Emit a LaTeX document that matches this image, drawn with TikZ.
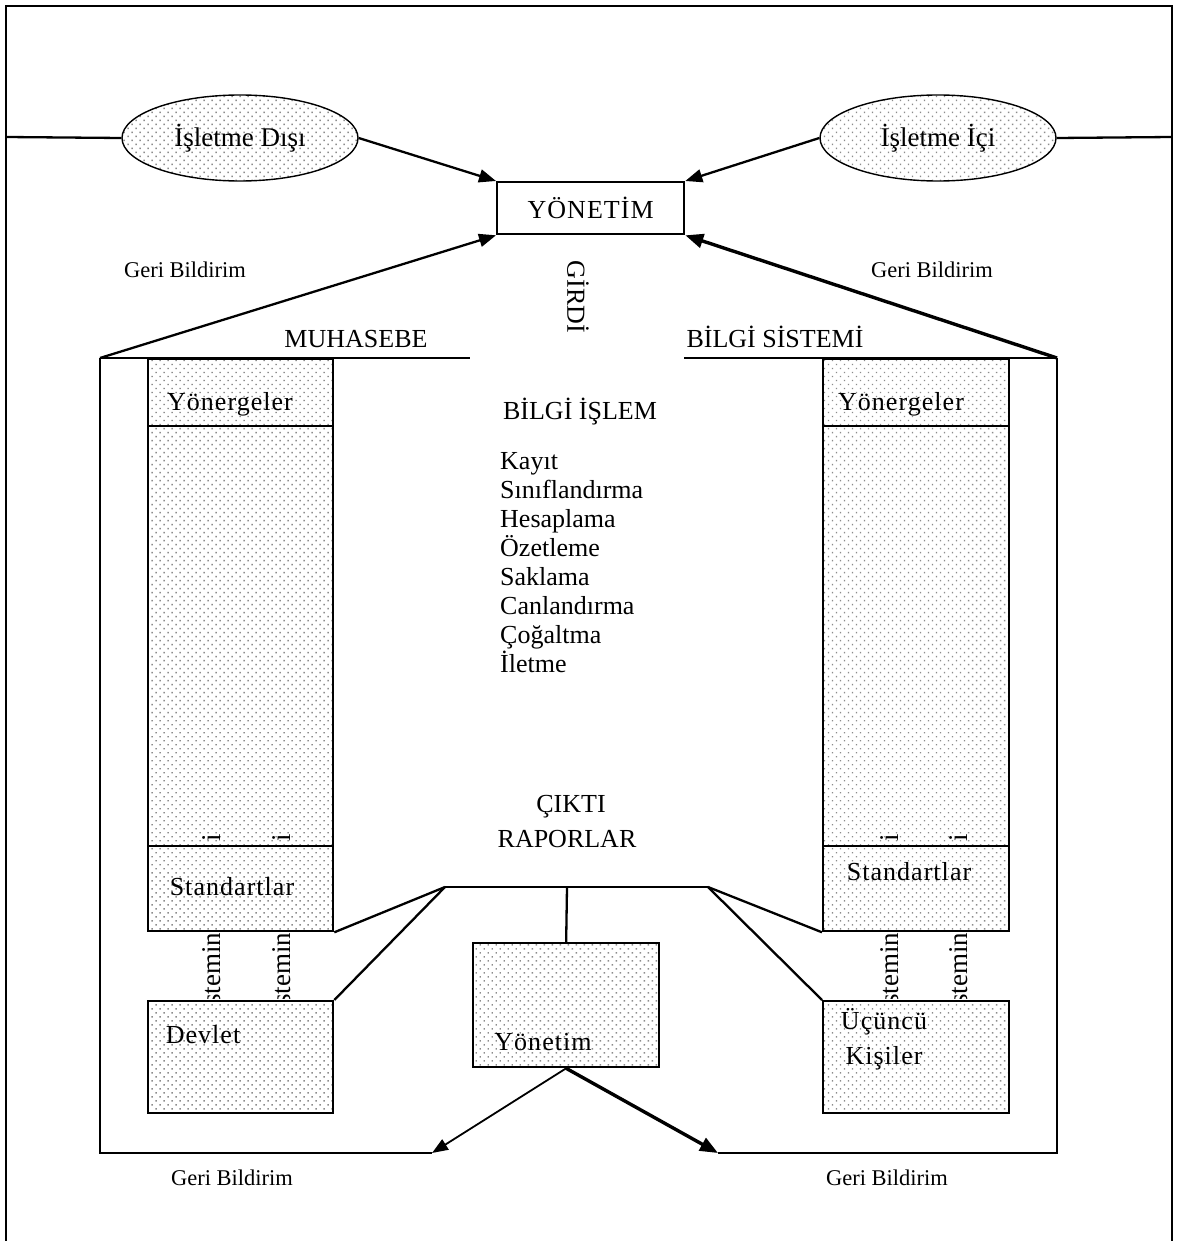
\documentclass[tikz,border=0pt]{standalone}
\usepackage{fontspec}
\setmainfont{Liberation Serif}
\newfontfamily\spacedfont[LetterSpace=4]{Liberation Serif}
\usetikzlibrary{arrows.meta,patterns.meta,shapes.geometric}
\begin{document}
\begin{tikzpicture}[x=1pt,y=-1pt,
  ln/.style={line width=2.3pt},
  arr/.style={line width=2.3pt,-{Triangle[length=17pt,width=13pt]}},
  arrthin/.style={line width=1.8pt,-{Triangle[length=16pt,width=12pt]}},
  arrthick/.style={line width=3.4pt,-{Triangle[length=18pt,width=14pt]}},
  shaded/.style={draw,line width=2.3pt,preaction={fill=white},
    pattern={Dots[distance=5.66pt,angle=45,radius=1pt]},pattern color=black!45,
    inner sep=0pt,anchor=north west},
  oval/.style={ellipse,draw,line width=1.4pt,preaction={fill=white},
    pattern={Dots[distance=5.66pt,angle=45,radius=1pt]},pattern color=black!45,
    inner sep=0pt,minimum width=236pt,minimum height=86pt,
    font=\fontsize{27}{30}\selectfont},
  txt/.style={inner sep=0pt,anchor=base,font=\fontsize{26}{30}\selectfont},
  stxt/.style={inner sep=0pt,anchor=base,font=\fontsize{26}{30}\spacedfont},
  fb/.style={inner sep=0pt,anchor=base,font=\fontsize{22.5}{26}\selectfont},
  lst/.style={inner sep=0pt,anchor=base west,font=\fontsize{26}{30}\selectfont},
  frag/.style={inner sep=0pt,anchor=base west,rotate=90,font=\fontsize{27}{30}\selectfont}
]
\useasboundingbox (0,0) rectangle (1176,1241);

% outer frame
\coordinate (F1) at (6,1241);
\coordinate (F2) at (6,6);
\coordinate (F3) at (1172,6);
\coordinate (F4) at (1172,1241);
\coordinate (FL) at (6,137);
\coordinate (FR) at (1172,137);
\draw[ln] (F1) -- (F2) -- (F3) -- (F4);

% ellipses
\node[oval] (el) at (240,138) {İşletme Dışı};
\node[oval] (er) at (938,138) {İşletme İçi};
\draw[ln] (FL) -- (el.west);
\draw[ln] (er.east) -- (FR);

% YÖNETİM
\node[draw,line width=2.3pt,fill=white,inner sep=0pt,anchor=north west,
  minimum width=187pt,minimum height=52pt,font=\fontsize{26}{30}\spacedfont] (yon) at (496,181) {YÖNETİM};
\draw[arr] (el.east) -- (yon.north west);
\draw[arr] (er.west) -- (yon.north east);

% system outline
\coordinate (TL) at (100,358);
\coordinate (TR) at (1057,358);
\coordinate (ML) at (470,358);
\coordinate (MR) at (684,358);
\coordinate (BL) at (100,1153);
\coordinate (BR) at (1057,1153);
\coordinate (BLe) at (432,1153);
\coordinate (BRe) at (718,1153);
\draw[arr] (TL) -- (yon.south west);
\draw[arrthick] (TR) -- (yon.south east);
\draw[ln] (TL) -- (ML);
\draw[ln] (MR) -- (TR);
\draw[ln] (TL) -- (BL) -- (BLe);
\draw[ln] (TR) -- (BR) -- (BRe);

\node[fb] (gb1) at (185,277) {Geri Bildirim};
\node[fb] (gb2) at (932,277) {Geri Bildirim};
\node[fb] (gb3) at (232,1185) {Geri Bildirim};
\node[fb] (gb4) at (887,1185) {Geri Bildirim};

\node[rotate=-90,inner sep=0pt,font=\fontsize{26}{30}\selectfont] (girdi) at (578,297) {GİRDİ};
\node[txt] (muh) at (356,347) {MUHASEBE};
\node[txt] (bs) at (775,347) {BİLGİ SİSTEMİ};

% columns
\node[shaded,minimum width=185pt,minimum height=67pt] (ly) at (147,358) {};
\node[shaded,minimum width=185pt,minimum height=420pt] (lm) at (147,425) {};
\node[shaded,minimum width=185pt,minimum height=85pt] (ls) at (147,845) {};
\node[shaded,minimum width=186pt,minimum height=67pt] (ry) at (822,358) {};
\node[shaded,minimum width=186pt,minimum height=420pt] (rm) at (822,425) {};
\node[shaded,minimum width=186pt,minimum height=85pt] (rs) at (822,845) {};
\node[stxt] (lyt) at (230,410) {Yönergeler};
\node[stxt] (ryt) at (901,410) {Yönergeler};
\node[stxt] (lst) at (232,895) {Standartlar};
\node[stxt] (rst) at (909,880) {Standartlar};

% bottom boxes
\node[shaded,minimum width=185pt,minimum height=112pt] (dev) at (147,1000) {};
\node[shaded,minimum width=186pt,minimum height=112pt] (ucu) at (822,1000) {};
\node[shaded,minimum width=186pt,minimum height=124pt] (yonb) at (472,942) {};
\node[stxt] (devt) at (203,1043) {Devlet};
\node[stxt] (ucut1) at (884,1029) {Üçüncü};
\node[stxt] (ucut2) at (884,1064) {Kişiler};
\node[stxt] (yonbt) at (543,1050) {Yönetim};

% clipped fragments
\begin{scope}
\clip (148,931.5) rectangle (331,998.5) (823,931.5) rectangle (1007,998.5);
\node[frag] (s1) at (220,1005) {stemin};
\node[frag] (s2) at (290,1005) {stemin};
\node[frag] (s3) at (898,1005) {stemin};
\node[frag] (s4) at (967,1005) {stemin};
\end{scope}
\begin{scope}
\clip (148,831) rectangle (331,843.5) (823,831) rectangle (1007,843.5);
\node[frag] (i1) at (220,842) {i};
\node[frag] (i2) at (290,842) {i};
\node[frag] (i3) at (898,842) {i};
\node[frag] (i4) at (967,842) {i};
\end{scope}

% centre texts
\node[txt] (bi) at (580,419) {BİLGİ İŞLEM};
\node[lst] (k1) at (500,469) {Kayıt};
\node[lst] (k2) at (500,498) {Sınıflandırma};
\node[lst] (k3) at (500,527) {Hesaplama};
\node[lst] (k4) at (500,556) {Özetleme};
\node[lst] (k5) at (500,585) {Saklama};
\node[lst] (k6) at (500,614) {Canlandırma};
\node[lst] (k7) at (500,643) {Çoğaltma};
\node[lst] (k8) at (500,672) {İletme};
\node[txt] (cik) at (571,812) {ÇIKTI};
\node[txt] (rap) at (567,847) {RAPORLAR};

% report distribution lines
\coordinate (R1) at (445,887);
\coordinate (R2) at (708,887);
\coordinate (R3) at (567,887);
\draw[ln] (R1) -- (R2);
\draw[ln] (R1) -- (ls.south east);
\draw[ln] (R1) -- (dev.north east);
\draw[ln] (R3) -- (yonb.north);
\draw[ln] (R2) -- (rs.south west);
\draw[ln] (R2) -- (ucu.north west);

% feedback arrows from Yönetim
\draw[arrthin] (yonb.south) -- (BLe);
\draw[arrthick] (yonb.south) -- (BRe);
\end{tikzpicture}
\end{document}
